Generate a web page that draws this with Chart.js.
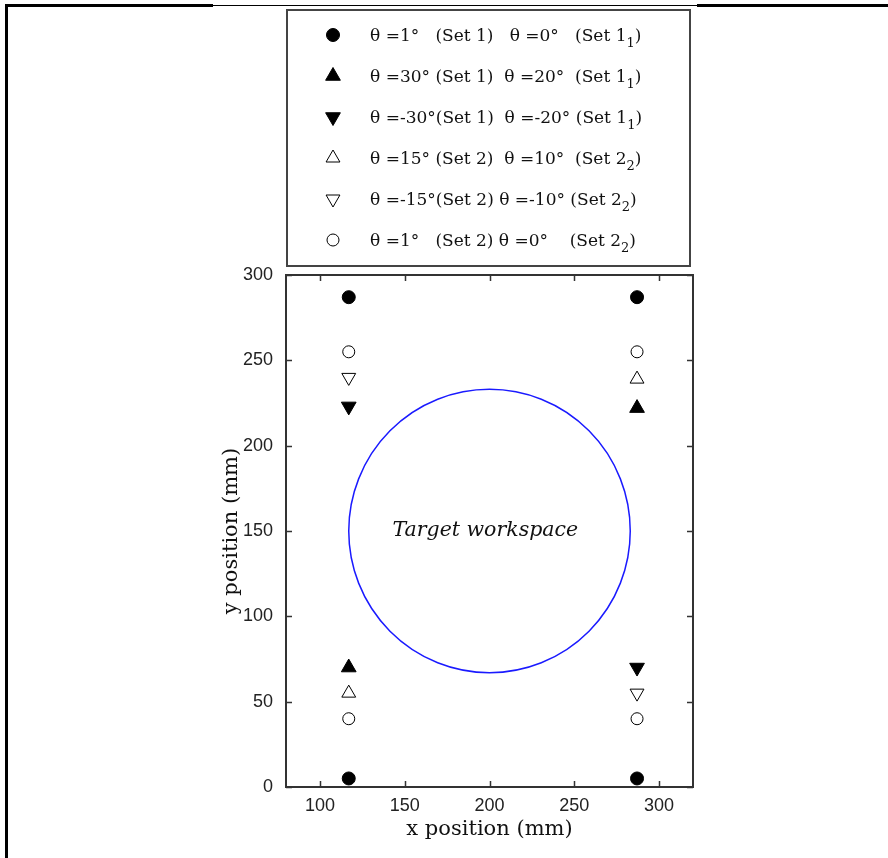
<!DOCTYPE html>
<html>
<head>
<meta charset="utf-8">
<script src="https://cdn.jsdelivr.net/npm/chart.js@4.4.1/dist/chart.umd.min.js"></script>
<style>
  body { margin: 0; background: #fff; }
  canvas { display: block; }
</style>
</head>
<body>
<canvas id="posChart" width="888" height="858"></canvas>
<script>
// tick labels
const xTicks = [100, 150, 200, 250, 300];
const yTicks = [0, 50, 100, 150, 200, 250, 300];

// marker positions (mm), one pair of arrays per marker type
const filledCircleX = [117, 117, 287, 287];
const filledCircleY = [5, 287, 5, 287];
const filledUpX = [117, 287];
const filledUpY = [70, 222];
const filledDownX = [117, 287];
const filledDownY = [223, 70];
const openUpX = [117, 287];
const openUpY = [55, 239];
const openDownX = [117, 287];
const openDownY = [240, 55];
const openCircleX = [117, 117, 287, 287];
const openCircleY = [40, 255, 40, 255];

// target workspace circle
const workspaceCenter = [200, 150];
const workspaceRadius = 83;

// legend rows, "_" marks the subscript char
const legendRows = [
    "θ =1°   (Set 1)   θ =0°   (Set 1_1)",
    "θ =30° (Set 1)  θ =20°  (Set 1_1)",
    "θ =-30°(Set 1)  θ =-20° (Set 1_1)",
    "θ =15° (Set 2)  θ =10°  (Set 2_2)",
    "θ =-15°(Set 2) θ =-10° (Set 2_2)",
    "θ =1°   (Set 2) θ =0°    (Set 2_2)"
];

const toPts = (xs, ys) => xs.map((x, i) => ({ x: x, y: ys[i] }));

// marker styles, same order as legend
const markers = [
    { pointStyle: 'circle', radius: 6.5, rotation: 0, fill: '#000', data: toPts(filledCircleX, filledCircleY) },
    { pointStyle: 'triangle', radius: 8.5, rotation: 0, fill: '#000', data: toPts(filledUpX, filledUpY) },
    { pointStyle: 'triangle', radius: 8.5, rotation: 180, fill: '#000', data: toPts(filledDownX, filledDownY) },
    { pointStyle: 'triangle', radius: 8, rotation: 0, fill: '#fff', data: toPts(openUpX, openUpY) },
    { pointStyle: 'triangle', radius: 8, rotation: 180, fill: '#fff', data: toPts(openDownX, openDownY) },
    { pointStyle: 'circle', radius: 6, rotation: 0, fill: '#fff', data: toPts(openCircleX, openCircleY) }
];

const serif = "'DejaVu Serif', 'Liberation Serif', serif";

// page frame, plot frame, inner ticks, workspace circle, legend
const decorations = {
    id: 'decorations',
    beforeDraw(chart) {
        const ctx = chart.ctx;
        ctx.save();
        ctx.fillStyle = '#000';
        ctx.fillRect(5, 4, 3, 854);
        ctx.fillRect(5, 4, 208, 3);
        ctx.fillRect(213, 5, 484, 1);
        ctx.fillRect(697, 4, 191, 3);
        ctx.restore();
    },
    afterDatasetsDraw(chart) {
        const ctx = chart.ctx;
        const { left, right, top, bottom } = chart.chartArea;
        const xs = chart.scales.x, ys = chart.scales.y;
        ctx.save();

        // workspace
        const cx = xs.getPixelForValue(workspaceCenter[0]);
        const cy = ys.getPixelForValue(workspaceCenter[1]);
        const rx = xs.getPixelForValue(workspaceCenter[0] + workspaceRadius) - cx;
        const ry = cy - ys.getPixelForValue(workspaceCenter[1] + workspaceRadius);
        ctx.beginPath();
        ctx.ellipse(cx, cy, rx, ry, 0, 0, Math.PI * 2);
        ctx.strokeStyle = '#1a1aff';
        ctx.lineWidth = 1.5;
        ctx.stroke();

        ctx.fillStyle = '#111';
        ctx.font = "italic 20.5px " + serif;
        ctx.textAlign = 'center';
        ctx.textBaseline = 'middle';
        ctx.fillText('Target workspace', xs.getPixelForValue(197.5), cy);

        // plot frame
        ctx.strokeStyle = '#333';
        ctx.lineWidth = 2;
        ctx.strokeRect(left, top, right - left, bottom - top);

        // inner ticks on all sides
        ctx.lineWidth = 1.5;
        ctx.beginPath();
        xTicks.forEach(v => {
            const px = Math.round(xs.getPixelForValue(v)) + 0.5;
            ctx.moveTo(px, bottom); ctx.lineTo(px, bottom - 6);
            ctx.moveTo(px, top); ctx.lineTo(px, top + 6);
        });
        yTicks.forEach(v => {
            const py = Math.round(ys.getPixelForValue(v)) + 0.5;
            ctx.moveTo(left, py); ctx.lineTo(left + 6, py);
            ctx.moveTo(right, py); ctx.lineTo(right - 6, py);
        });
        ctx.stroke();

        // legend box
        ctx.strokeStyle = '#444';
        ctx.lineWidth = 2;
        ctx.strokeRect(287, 10, 403, 256);

        ctx.textAlign = 'left';
        ctx.textBaseline = 'alphabetic';
        legendRows.forEach((row, i) => {
            const y = 35 + i * 41;
            const m = markers[i];
            ctx.fillStyle = m.fill;
            ctx.strokeStyle = '#000';
            ctx.lineWidth = 1;
            Chart.helpers.drawPoint(ctx, {
                pointStyle: m.pointStyle, radius: m.radius, rotation: m.rotation, borderWidth: 1
            }, 333, y);

            const parts = row.split('_');
            let tx = 370;
            ctx.fillStyle = '#111';
            ctx.font = "17px " + serif;
            ctx.fillText(parts[0], tx, y + 6);
            tx += ctx.measureText(parts[0]).width;
            ctx.font = "13px " + serif;
            ctx.fillText(parts[1][0], tx, y + 12);
            tx += ctx.measureText(parts[1][0]).width;
            ctx.font = "17px " + serif;
            ctx.fillText(parts[1].slice(1), tx, y + 6);
        });
        ctx.restore();
    }
};

new Chart(document.getElementById('posChart'), {
    type: 'scatter',
    data: {
        datasets: markers.map(m => ({
            data: m.data,
            pointStyle: m.pointStyle,
            pointRadius: m.radius,
            pointRotation: m.rotation,
            backgroundColor: m.fill,
            borderColor: '#000',
            borderWidth: 1
        }))
    },
    options: {
        responsive: false,
        animation: false,
        layout: { padding: { left: 206, right: 195, top: 275, bottom: 11 } },
        plugins: { legend: { display: false }, tooltip: { enabled: false } },
        scales: {
            x: {
                min: 80, max: 320,
                afterBuildTicks: s => { s.ticks = xTicks.map(v => ({ value: v })); },
                afterFit: s => { s.height = 60; },
                grid: { display: false, drawTicks: false },
                border: { display: false },
                ticks: { padding: 8, color: '#222', font: { family: "'Liberation Sans', Arial, sans-serif", size: 18 } },
                title: {
                    display: true, text: 'x position (mm)', color: '#111',
                    font: { family: serif, size: 21 }, padding: { top: 0, bottom: 5 }
                }
            },
            y: {
                min: 0, max: 300,
                afterBuildTicks: s => { s.ticks = yTicks.map(v => ({ value: v })); },
                afterFit: s => { s.width = 80; },
                grid: { display: false, drawTicks: false },
                border: { display: false },
                ticks: { padding: 13, color: '#222', font: { family: "'Liberation Sans', Arial, sans-serif", size: 18 } },
                title: {
                    display: true, text: 'y position (mm)', color: '#111',
                    font: { family: serif, size: 21 }, padding: { top: 13, bottom: 0 }
                }
            }
        }
    },
    plugins: [decorations]
});
</script>
</body>
</html>
